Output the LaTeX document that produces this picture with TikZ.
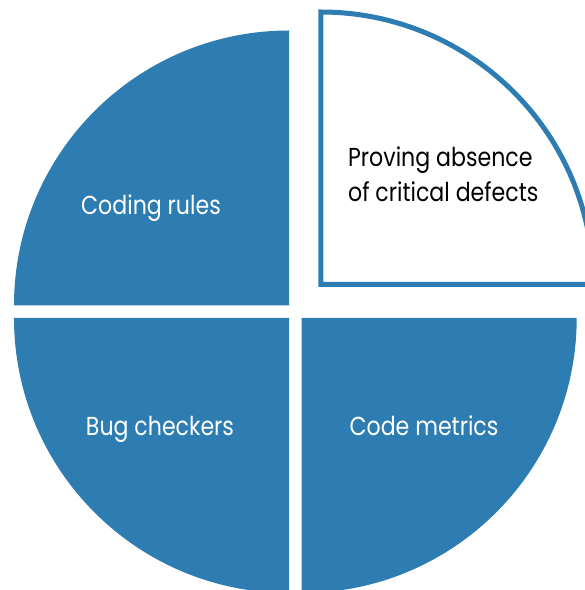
\documentclass[tikz,border=0pt]{standalone}
\usepackage{fontspec}
\setmainfont{Poppins}[FakeStretch=0.85]
\definecolor{pieblue}{RGB}{46,125,178}
\begin{document}
\begin{tikzpicture}[x=1pt,y=1pt,
  wedge/.style={fill=pieblue,draw=none},
  outlined/.style={draw=pieblue,line width=5pt,fill=white,line join=miter},
  lbl/.style={font=\fontsize{26}{35}\selectfont,anchor=base,inner sep=0pt},
  lblw/.style={lbl,text=white}]
\useasboundingbox (0,0) rectangle (585,590);
\clip (0,0) rectangle (585,590);
% top-left
\path[wedge] (289,284.5) -- (14,284.5) arc[start angle=180,end angle=90,radius=275] -- cycle;
% bottom-left
\path[wedge] (289,272) -- (14,272) arc[start angle=180,end angle=270,radius=275] -- cycle;
% bottom-right
\path[wedge] (301.7,272) -- (576.7,272) arc[start angle=0,end angle=-90,radius=275] -- cycle;
% top-right outlined
\draw[outlined] (320.8,305.5) -- (593.3,305.5) arc[start angle=0,end angle=90,radius=272.5] -- cycle;
\node[lblw] (coding) at (151,375.7) {Coding rules};
\node[lblw] (bug) at (160,154) {Bug checkers};
\node[lblw] (metrics) at (424,154) {Code metrics};
\node[lbl,anchor=base west,align=left] (proving) at (348,423.3) {Proving absence};
\node[lbl,anchor=base west,align=left] (defects) at (348,388) {of critical defects};
\end{tikzpicture}
\end{document}
